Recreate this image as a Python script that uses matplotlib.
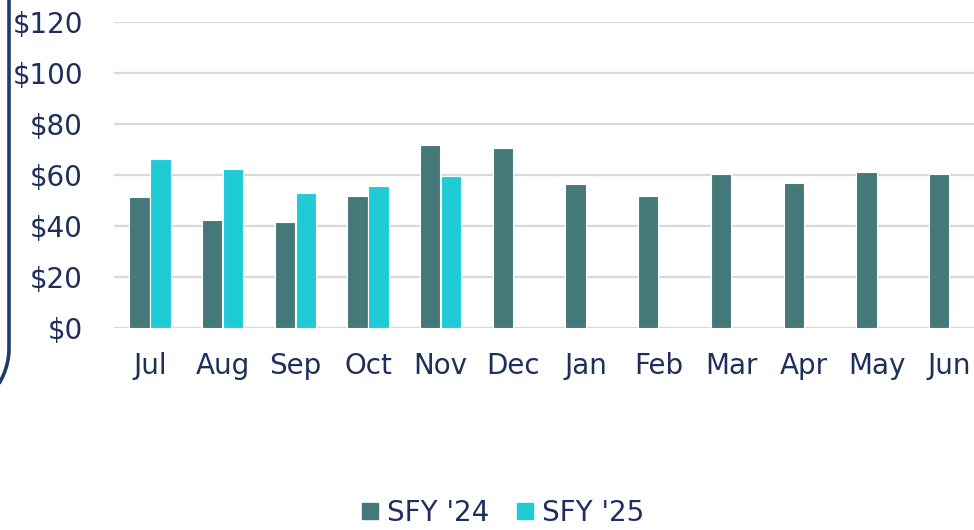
import numpy as np
import matplotlib.pyplot as plt
from matplotlib.lines import Line2D
from matplotlib.patches import PathPatch
from matplotlib.path import Path

months = ['Jul', 'Aug', 'Sep', 'Oct', 'Nov', 'Dec', 'Jan', 'Feb', 'Mar', 'Apr', 'May', 'Jun']
sfy24 = [51.6, 42.6, 41.8, 51.8, 72.0, 70.6, 56.5, 51.8, 60.3, 57.1, 61.4, 60.4]
sfy25 = [66.4, 62.6, 53.2, 55.8, 59.6]
yticks = [0, 20, 40, 60, 80, 100, 120]

c24 = '#447879'
c25 = '#1fcbd4'
txt = '#1f2f5c'
grid = '#d9d9d9'

W, H = 974, 530
fig = plt.figure(figsize=(W / 100, H / 100), dpi=100)
ax = fig.add_axes([113.6 / W, (H - 328) / H, (986 - 113.6) / W, (328 - 22.5) / H])

x = np.arange(len(months))
bw = 0.28
off = 0.145
ax.bar(x - off, sfy24, width=bw, color=c24, edgecolor='white', linewidth=0.8, zorder=3)
ax.bar(x[:len(sfy25)] + off, sfy25, width=bw, color=c25, edgecolor='white', linewidth=0.8, zorder=3)

ax.set_xlim(-0.5, len(months) - 0.5)
ax.set_ylim(0, 120)
ax.set_yticks(yticks)
ax.set_yticklabels(['$' + str(v) for v in yticks])
ax.set_xticks(x)
ax.set_xticklabels(months)
ax.yaxis.grid(True, color=grid, linewidth=1.6, zorder=0)
ax.set_axisbelow(True)
for s in ax.spines.values():
    s.set_visible(False)
ax.tick_params(axis='both', length=0, labelsize=20, labelcolor=txt)
ax.tick_params(axis='y', pad=22)
ax.tick_params(axis='x', pad=17)

handles = [Line2D([], [], marker='s', linestyle='', markersize=11, color=c24),
           Line2D([], [], marker='s', linestyle='', markersize=11, color=c25)]
leg = fig.legend(handles, ["SFY '24", "SFY '25"], loc='center', ncol=2,
                 bbox_to_anchor=(503 / W, 1 - 513 / H), frameon=False, fontsize=20,
                 handlelength=0.6, handletextpad=0.3, columnspacing=1.0)
for t in leg.get_texts():
    t.set_color(txt)

# rounded border on the left edge
r = 68
cx, cy = 9 - r, 348
ang = np.linspace(0, np.radians(40), 30)
pts = [(9, -5), (9, cy)] + [(cx + r * np.cos(a), cy + r * np.sin(a)) for a in ang]
pts = [(px / W, 1 - py / H) for px, py in pts]
border = PathPatch(Path(pts), transform=fig.transFigure, fill=False,
                   edgecolor='#1f3a70', linewidth=2.6, clip_on=False)
fig.patches.append(border)

fig.savefig('out.png', dpi=100)
